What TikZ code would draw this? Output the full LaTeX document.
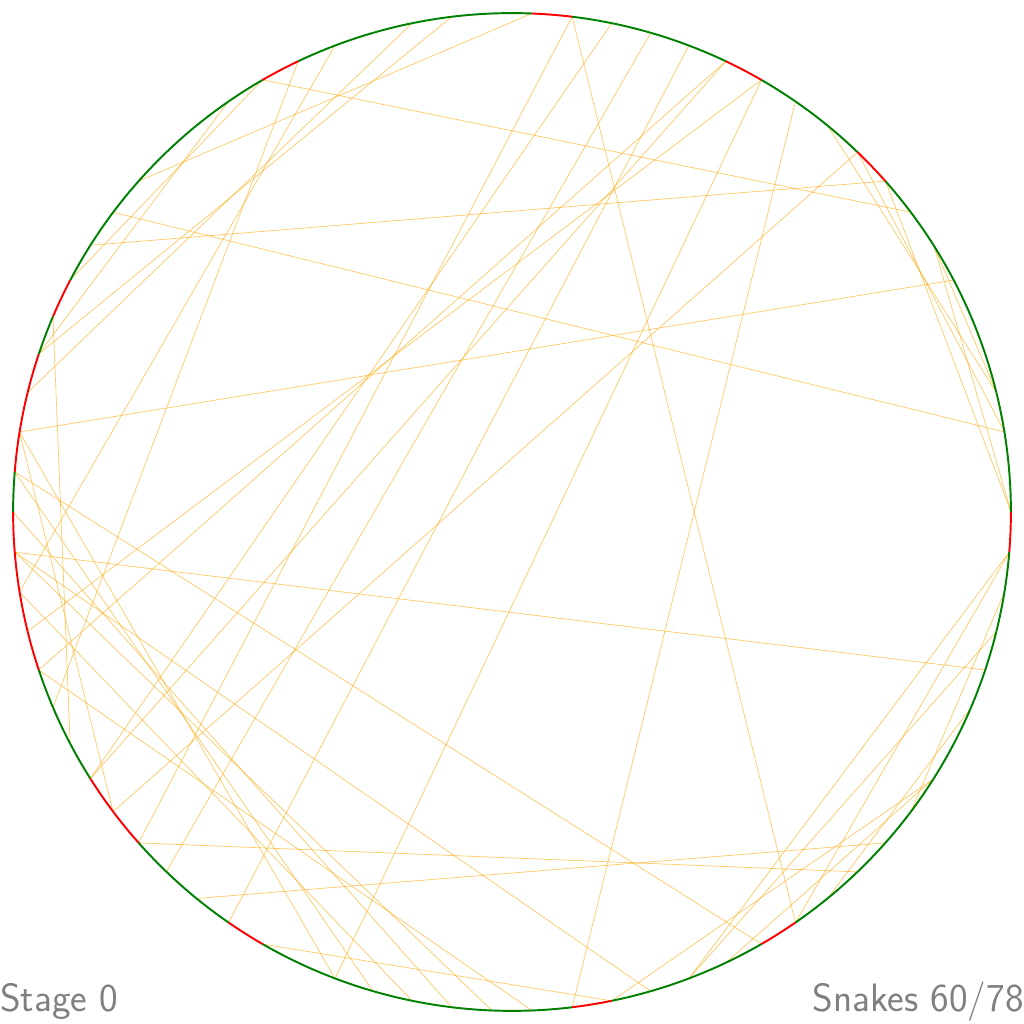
\documentclass[tikz,border=0pt]{standalone}
\definecolor{chordcol}{RGB}{255,165,0}
\definecolor{arcgreen}{RGB}{0,128,0}
\definecolor{arcred}{RGB}{255,0,0}
\definecolor{txtgray}{RGB}{128,128,128}
\tikzset{
  chord/.style={draw=chordcol, draw opacity=0.6, line width=0.4pt},
  arcg/.style={draw=arcgreen, line width=1.1pt},
  arcr/.style={draw=arcred, line width=1.1pt},
  lbl/.style={text=txtgray, inner sep=0pt, font=\sffamily\fontsize{22.5}{25}\selectfont}
}
\begin{document}
\begin{tikzpicture}[x=0.02cm,y=0.02cm]
\useasboundingbox (0,0) rectangle (1024,1024);
\foreach \k in {0,...,77}
  \coordinate (p\k) at ({512+499*cos(4.615385*\k)},{512+499*sin(4.615385*\k)});
\foreach \a/\b in {18/66,12/60,10/47,11/3,10/2,18/48,17/46,9/32,8/26,6/37,2/31,25/44,21/35,22/36,34/45,74/40,77/63,77/66,75/63,13/54,15/51,16/49,19/30,37/47,48/68,50/69,52/61,40/62,38/65,9/0,7/3,7/0,64/71,67/73,70/76,14/43,13/42,14/46,24/41,61/71,26/33,27/35,37/54,38/55,39/57,40/58,41/56,43/59}
  \draw[chord] (p\a) -- (p\b);
\foreach \k in {0,1,2,3,4,5,6,7,8,10,11,12,14,15,16,17,19,20,21,22,23,24,26,27,28,29,30,31,32,34,38,43,44,45,48,49,50,52,53,54,55,56,57,58,59,61,62,63,64,66,67,68,69,70,71,72,73,74,75,76}
  \draw[arcg] ([shift={(512,512)}]{4.615385*\k}:9.98cm) arc[start angle={4.615385*\k}, end angle={4.615385*(\k+1)}, radius=9.98cm];
\foreach \k in {9,13,18,25,33,35,36,37,39,40,41,42,46,47,51,60,65,77}
  \draw[arcr] ([shift={(512,512)}]{4.615385*\k}:9.98cm) arc[start angle={4.615385*\k}, end angle={4.615385*(\k+1)}, radius=9.98cm];
\node[lbl, anchor=base west] (stage) at (0,12) {Stage 0};
\node[lbl, anchor=base east] (snakes) at (1024,12) {Snakes 60/78};
\end{tikzpicture}
\end{document}
